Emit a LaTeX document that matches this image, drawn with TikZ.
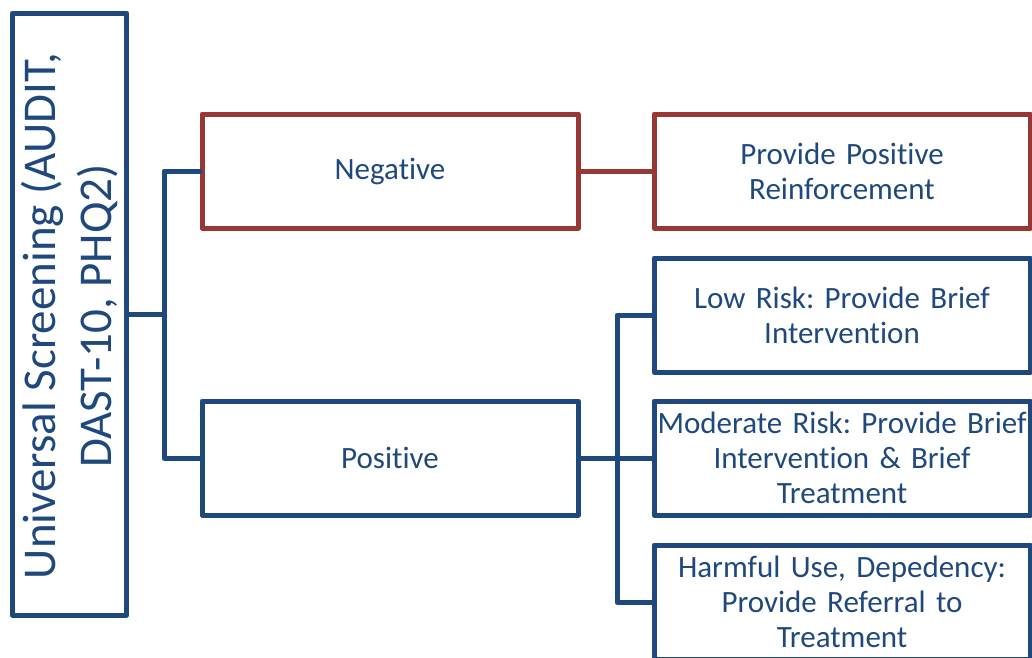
\documentclass[tikz,border=0pt]{standalone}
\usepackage{fontspec}
\setmainfont[Ligatures={NoCommon}]{Carlito}
\definecolor{dblue}{HTML}{1F497D}
\definecolor{dred}{HTML}{993735}
\frenchspacing
\begin{document}
\begin{tikzpicture}[x=1pt,y=-1pt,
  box/.style={draw=dblue, line width=5pt, line join=round, minimum width=376pt, minimum height=114pt,
    text width=372pt, align=center, inner sep=0pt, outer sep=0pt, text=dblue,
    font=\fontsize{31}{35}\selectfont},
  redbox/.style={box, draw=dred},
  conn/.style={draw=dblue, line width=5pt, line join=round},
  rconn/.style={draw=dred, line width=5pt}]
\useasboundingbox (0,0) rectangle (1032,657);
\clip (0,0) rectangle (1032,657);
\node[draw=dblue, line width=5pt, line join=round, minimum width=114pt, minimum height=602pt, inner sep=0pt, outer sep=0pt] (screen) at (69.5,314) {};
\node[rotate=90, text=dblue, align=center, font=\fontsize{47}{56}\selectfont] (screentext) at (69.5,316) {Universal Screening (AUDIT,\\DAST-10, PHQ2)};
\node[redbox] (neg) at (390,171) {Negative};
\node[redbox] (prov) at (842,171) {Provide Positive\\Reinforcement};
\node[box] (pos) at (390,458) {Positive};
\node[box] (low) at (842,315) {Low Risk: Provide Brief\\Intervention};
\node[box] (mod) at (842,458) {Moderate Risk: Provide Brief\\Intervention \& Brief\\Treatment};
\node[box] (harm) at (842,602) {Harmful Use, Depedency:\\Provide Referral to\\Treatment};
\coordinate (j1) at (164,314);
\coordinate (j2) at (617,458);
\draw[conn] (screen.east) -- (j1);
\draw[conn] (neg.west) -| (j1) |- (pos.west);
\draw[rconn] (neg.east) -- (prov.west);
\draw[conn] (pos.east) -- (mod.west);
\draw[conn] (low.west) -| (j2) |- (harm.west);
\end{tikzpicture}
\end{document}
